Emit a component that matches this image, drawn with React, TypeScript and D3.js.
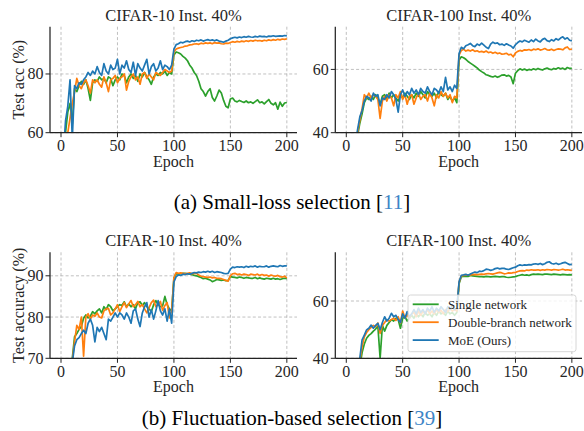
import React from 'react';
import * as d3 from 'd3';

// epochs sampled every 2 epochs, 0..200
const EPOCHS = d3.range(0, 201, 2);
const X_TICKS = [0, 50, 100, 150, 200];
const SERIES_NAMES = ['Single network', 'Double-branch network', 'MoE (Ours)'];
const SERIES_COLORS = ['#2ca02c', '#ff7f0e', '#1f77b4'];

// (a) small-loss selection, CIFAR-10 Inst. 40%
const A_SINGLE = [
  38, 48, 60, 67, 70,
  63, 75, 74, 76, 77.5,
  76.5, 78, 75, 71, 77,
  78, 77.5, 79, 78, 78.5,
  77, 79, 78.5, 76, 78,
  79, 78, 80, 79.5, 77,
  79, 80, 78.5, 79.5, 77.5,
  80, 79, 80.5, 79, 78,
  76.5, 79, 80, 79.5, 80.5,
  80, 81, 79.5, 80.5, 80,
  86.5, 87.5, 87.2, 86.8, 86,
  85.4, 84.5, 83, 82, 80.5,
  79.5, 77.5, 75, 74, 72.5,
  74, 75, 72, 70.8, 72.5,
  74.5, 73.5, 71, 69, 68.5,
  71.5, 71.8, 70.8, 70.5, 71,
  70.6, 70.3, 70.8, 70.2, 70.5,
  70, 70.6, 71.2, 70.2, 70.5,
  69.8, 70.6, 71.3, 70, 69.5,
  70.2, 68, 70.4, 69, 70.1,
  70.3,
];
const A_DOUBLE = [
  35, 45, 55, 60, 65,
  70, 74, 78.5, 76, 75,
  77, 78, 76, 73.5, 78,
  77, 78, 76.5, 75.5, 79,
  77, 74, 78, 78.5, 79.5,
  77, 78.5, 79, 80, 74.5,
  77.5, 79, 80, 78, 79,
  76.5, 80, 80.5, 78.5, 80,
  79, 78, 80.5, 80, 79.5,
  80.5, 81.5, 81, 80.5, 81,
  87.5, 88.5, 88.8, 89, 89.2,
  89.5, 89.6, 89.9, 90, 90.2,
  90.3, 90.1, 90.5, 90.3, 90.6,
  90.4, 90.6, 90.3, 90.7, 90.5,
  90.6, 90.3, 90.2, 90.5, 90.4,
  90.7, 91, 90.8, 91.1, 90.9,
  91.2, 91, 91.3, 91.1, 91.4,
  91.2, 91.5, 91.3, 91.4, 91.2,
  91.5, 91.3, 91.6, 91.4, 91.7,
  91.5, 91.8, 91.6, 91.9, 91.8,
  92,
];
const A_MOE = [
  40, 52, 64, 69, 78,
  58, 76, 75, 77, 76.5,
  78, 79, 80.5, 79.5, 81,
  80, 82.5, 80.5, 79.5, 83.5,
  81, 80, 83, 81.5, 82,
  85, 80, 83, 82, 84.5,
  81.5, 80.5, 84, 79.5, 83.5,
  82, 81, 83, 85, 80,
  82.5, 83.5, 81, 82, 84.5,
  81.5, 83, 82.5, 81.5, 83,
  88.5, 90, 90.3, 90.8, 90.6,
  91, 91.2, 90.9, 91.3, 91.1,
  91.5, 91.3, 91.6, 91.2, 91.5,
  91.7, 91.4, 91.6, 91.3, 91.6,
  91.2, 91, 90.8, 91.2, 91.5,
  92, 92.3, 92.5, 92.3, 92.6,
  92.4, 92.7, 92.5, 92.8, 92.6,
  92.5, 92.8, 92.6, 92.9, 92.7,
  92.8, 92.6, 92.9, 92.8, 93,
  92.8, 92.9, 93, 92.9, 93.1,
  93,
];

// (a) small-loss selection, CIFAR-100 Inst. 40%
const B_SINGLE = [
  13, 18, 23, 28, 34,
  39, 43, 46, 49.5, 51,
  50.5, 51.5, 50.5, 52, 51,
  49, 51.5, 52, 50.5, 52.5,
  51, 52, 51, 50, 52,
  51, 52.5, 51.5, 50.5, 52,
  51, 52.5, 51.5, 53, 52,
  51, 53, 52, 51.5, 52.5,
  51, 53, 52, 51.5, 52.5,
  50.5, 51.5, 50, 51, 49.5,
  63, 64, 63.7, 63.2, 62.5,
  62, 61.5, 61, 60.5, 59.8,
  59.3, 58.9, 58.3, 58.1, 57.8,
  57.6, 57.9, 57.5, 57.8, 58.2,
  58.3, 57.9, 58.1, 57.6, 55.5,
  58.8, 59.6, 60.2, 59.8, 60.1,
  59.7, 60, 59.8, 60.2, 59.9,
  60.3, 60, 59.8, 60.2, 60.4,
  60.1, 59.9, 60.3, 60.1, 60.5,
  60.2, 60.4, 60, 60.6, 60.3,
  60.3,
];
const B_DOUBLE = [
  14, 19, 24, 29, 35,
  40, 44, 47.5, 52, 51,
  52.5, 51, 52, 51.5, 50.5,
  44.5, 50, 51.5, 50, 52,
  51, 48.5, 52, 51, 53,
  50.5, 52, 49, 51.5, 52,
  49, 51, 52.5, 50.5, 51.5,
  52, 50, 52.5, 51, 48.5,
  52, 51, 53, 51.5, 52.5,
  51, 52, 49.5, 51.5, 51,
  64.5, 66, 66.4, 65.8, 66.1,
  65.8, 66.2, 65.7, 65.9, 65.5,
  65.7, 65.4, 65.8, 65.3, 65.5,
  65.1, 65.4, 65, 65.2, 64.8,
  64.9, 65.1, 64.6, 64.8, 64,
  65.2, 65.7, 66, 65.8, 66.2,
  66.1, 66.3, 66, 66.4, 66.2,
  66.5, 66.1, 66.3, 66.6, 66.2,
  66.1, 66.4, 66, 66.3, 66.5,
  66.4, 66.2, 66.8, 67.1, 66.3,
  66.4,
];
const B_MOE = [
  15, 20, 25, 30, 36,
  41, 45, 47, 50, 51.5,
  51, 50, 52.5, 51.5, 52,
  48.5, 51, 50.5, 52, 51,
  53, 52, 50.5, 46.5, 52,
  53.5, 51.5, 53, 52, 54,
  52.5, 53.5, 52, 54, 53,
  52.5, 54.5, 53, 52, 54,
  53.5, 52.5, 54.5, 53, 57.5,
  53.5, 54.5, 53, 55, 54,
  65, 67, 66.5, 67.5, 67.8,
  68.2, 67.5, 67.2, 68, 67.6,
  68.3, 67.7, 67, 66.6, 68,
  68.6, 68.2, 68.4, 67.8, 68,
  67.6, 68.1, 67.7, 67.4, 66.7,
  67.8, 68.5, 69, 68.7, 69.2,
  68.9, 68.6, 69.3, 68.8, 69.6,
  69, 68.7, 69.5, 69.8, 69.1,
  68.8, 69.4, 69, 69.7, 69.3,
  69.9, 70.3, 69.6, 70, 69.2,
  69,
];

// (b) fluctuation-based selection, CIFAR-10 Inst. 40%
const C_SINGLE = [
  37, 45, 52, 59, 64,
  70, 75.2, 76, 77, 77.7,
  79.7, 80.5, 79.8, 80.2, 81.3,
  80.8, 81.5, 82, 81, 82.5,
  81.8, 83, 82.5, 81.5, 82,
  82.5, 83, 82.8, 83.7, 82.5,
  83.2, 82.5, 83, 82, 83.5,
  83.7, 82.8, 83.5, 82.5, 82,
  81.3, 83, 84, 83, 82.5,
  82.7, 85, 83, 82, 81.5,
  89.5, 90.5, 90.4, 90.5, 90.6,
  90.6, 90.5, 90.4, 90.3, 90.1,
  90, 89.8, 89.6, 89.3, 89.4,
  89.2, 89, 88.6, 88.8, 89.1,
  89, 88.9, 89, 88.8, 88.9,
  89.8, 89.7, 89.6, 89.5, 89.7,
  89.6, 89.4, 89.6, 89.5, 89.4,
  89.4, 89.6, 89.3, 89.5, 89.3,
  89.2, 89.4, 89.3, 89.2, 89.4,
  89.2, 89.3, 89.1, 89.3, 89.4,
  89.3,
];
const C_DOUBLE = [
  38, 46, 53, 60, 65,
  69.5, 74, 78, 77, 80,
  70.5, 80, 80.8, 79.5, 80.5,
  80.2, 81, 80, 79.8, 81.5,
  82, 82.1, 80.5, 81, 82,
  83, 81.3, 82.5, 83.5, 82.3,
  83.2, 84, 82.5, 83, 83.8,
  82.5, 83, 82, 81, 82.3,
  83.5, 84.1, 82.5, 83, 83.8,
  81.6, 82.8, 83.5, 79.8, 81.6,
  89.5, 90.8, 90.6, 90.7, 90.6,
  90.5, 90.6, 90.7, 90.5, 90.6,
  90.6, 90.2, 89.9, 89.8, 89.7,
  89.6, 89.7, 89.5, 89.6, 89.4,
  89.4, 89.3, 89.1, 88.9, 88.7,
  90, 90.5, 90.6, 90.3, 90.4,
  90.2, 90.4, 90.3, 90.1, 90.4,
  90.3, 90.2, 90.4, 90.1, 90.3,
  90.1, 90.2, 89.9, 90.2, 90,
  89.9, 90.1, 89.8, 89.7, 89.9,
  89.5,
];
const C_MOE = [
  40, 48, 55, 61, 66,
  69, 73, 74.5, 75, 76,
  76.8, 76, 78.5, 79.5, 78,
  74, 77.5, 76.5, 77.5, 76,
  74.5, 79.5, 79, 80, 81,
  80, 81, 80.5, 79.5, 81,
  80, 78.5, 81.5, 82, 79.5,
  77.7, 81, 82.5, 83.5, 80,
  81.8, 79.5, 81.5, 84, 81.5,
  80.5, 82, 79, 82, 78.5,
  88.5, 89.8, 90.2, 90.1, 90.4,
  90.3, 90.5, 90.4, 90.6, 90.8,
  90.7, 90.9, 90.8, 91, 90.9,
  91.1, 90.9, 91.1, 90.8, 91,
  90.9, 90.8, 90.6, 90.5, 90.6,
  91.6, 92.1, 92, 92.2, 92.1,
  92.2, 92, 92.3, 92.1, 92.3,
  92.2, 92.4, 92.1, 92.3, 92.2,
  92.2, 92.4, 92.1, 92.3, 92.4,
  92.3, 92.2, 92.5, 92.3, 92.4,
  92.4,
];

// (b) fluctuation-based selection, CIFAR-100 Inst. 40%
const D_SINGLE = [
  8, 12, 17, 23, 28,
  33, 37, 42, 45, 47,
  48, 48.6, 49.5, 50.2, 51.2,
  40, 51.5, 49.5, 51.5, 52.5,
  53.5, 53, 54, 53.5, 50.5,
  54, 54.5, 53, 54, 55,
  54, 55.5, 54.5, 55.5, 54.5,
  56, 55, 55.5, 54.5, 56,
  55, 56.5, 55.5, 56, 55,
  56.5, 55.5, 56, 55, 56,
  66, 68.5, 68.6, 68.7, 68.6,
  68.9, 68.8, 68.7, 68.6, 68.5,
  68.5, 68.4, 68.6, 68.5, 68.4,
  68.5, 68.6, 68.5, 68.4, 68.5,
  68.5, 68.3, 68.2, 68.3, 68.4,
  68.5, 68.8, 69, 69.2, 69,
  69.1, 68.9, 69.2, 69.4, 69.3,
  69.4, 69.3, 69.2, 69.4, 69.4,
  69.3, 69.2, 69.4, 69.3, 69.2,
  69.1, 69.3, 69.2, 69.1, 69.2,
  69.1,
];
const D_DOUBLE = [
  10, 14, 19, 25, 30,
  35, 39, 44, 47.5, 49,
  50, 50.8, 51.5, 51, 52.3,
  48.7, 51.5, 52.5, 53.5, 53,
  53.5, 54, 53.2, 54.5, 52.3,
  56.5, 54, 55.2, 54, 55.5,
  56, 54.5, 56.5, 55, 56.5,
  55.5, 57, 55.5, 56.5, 55.5,
  57, 56, 56.8, 55.5, 57,
  56.3, 57.5, 56.5, 57, 56.5,
  66.5, 68.8, 68.9, 69, 69.1,
  69.1, 69.2, 69.3, 69.2, 69.3,
  69.4, 69.3, 69.5, 69.6, 69.5,
  69.4, 69.6, 69.8, 70, 69.8,
  69.5, 69.6, 69.8, 69.7, 69.9,
  70, 70.3, 70.5, 70.6, 70.5,
  70.8, 70.7, 70.9, 70.8, 70.8,
  70.9, 70.7, 70.9, 70.8, 71,
  70.9, 70.8, 71, 70.9, 70.8,
  70.9, 71.1, 70.8, 70.9, 70.8,
  70.7,
];
const D_MOE = [
  10, 15, 20, 26, 31,
  36, 40, 46.4, 48.1, 49.9,
  50.5, 51.6, 50.5, 51.5, 52.2,
  50, 52.5, 54.5, 53, 54,
  55.7, 54.5, 55, 53.5, 52.5,
  55.5, 54, 56.3, 54.5, 55.5,
  57, 55.5, 57.5, 56, 57,
  55.5, 57.5, 56.5, 58, 56,
  57.5, 56.5, 58, 57, 56,
  58, 57, 58.5, 57, 57.5,
  66.7, 69, 69.1, 69.3, 69,
  69.4, 69.8, 70.1, 69.9, 70.4,
  70.3, 70.6, 71.1, 71, 70.7,
  70.9, 71.3, 71.5, 71.2, 71.4,
  71.4, 71.1, 71, 71.3, 71.6,
  71.8, 72.3, 72.6, 72.4, 72.6,
  72.5, 72.7, 72.6, 72.9, 73,
  72.8, 73.1, 72.7, 73, 73.5,
  73.7, 73.1, 72.9, 73.2, 72.8,
  73, 73.3, 73.5, 73.1, 72.7,
  72.8,
];

const FONT = '"Liberation Serif", "DejaVu Serif", serif';
const TEXT = '#262626';

const PANELS = [
  { id: 'a1', title: 'CIFAR-10 Inst. 40%', ylabel: 'Test acc (%)', yDomain: [60, 96.1], yTicks: [60, 80],
    lines: [A_SINGLE, A_DOUBLE, A_MOE], x0: 50, x1: 297, y0: 26.7, y1: 132.7, legend: false },
  { id: 'a2', title: 'CIFAR-100 Inst. 40%', ylabel: '', yDomain: [40, 73.5], yTicks: [40, 60],
    lines: [B_SINGLE, B_DOUBLE, B_MOE], x0: 335.3, x1: 582, y0: 26.7, y1: 132.7, legend: false },
  { id: 'b1', title: 'CIFAR-10 Inst. 40%', ylabel: 'Test accuracy (%)', yDomain: [70, 95.7], yTicks: [70, 80, 90],
    lines: [C_SINGLE, C_DOUBLE, C_MOE], x0: 50, x1: 297, y0: 252.3, y1: 358.3, legend: false },
  { id: 'b2', title: 'CIFAR-100 Inst. 40%', ylabel: '', yDomain: [40, 77], yTicks: [40, 60],
    lines: [D_SINGLE, D_DOUBLE, D_MOE], x0: 335.3, x1: 582, y0: 252.3, y1: 358.3, legend: true },
];

const Panel = ({ p }: { p: any }) => {
  const x = d3.scaleLinear().domain([-9.75, 209]).range([p.x0, p.x1]);
  const y = d3.scaleLinear().domain(p.yDomain).range([p.y1, p.y0]);
  const line = d3.line<number>().x((_, i) => x(EPOCHS[i])).y(d => y(d));
  const cx = (p.x0 + p.x1) / 2;

  return (
    <g>
      <defs>
        <clipPath id={`clip-${p.id}`}>
          <rect x={p.x0} y={p.y0} width={p.x1 - p.x0} height={p.y1 - p.y0} />
        </clipPath>
      </defs>

      {/* grid */}
      {X_TICKS.map(t => (
        <line key={`gx${t}`} x1={x(t)} x2={x(t)} y1={p.y0} y2={p.y1}
          stroke="#b0b0b0" strokeWidth={0.8} strokeDasharray="3,2.2" />
      ))}
      {p.yTicks.map((t: number) => (
        <line key={`gy${t}`} x1={p.x0} x2={p.x1} y1={y(t)} y2={y(t)}
          stroke="#b0b0b0" strokeWidth={0.8} strokeDasharray="3,2.2" />
      ))}

      {/* series */}
      <g clipPath={`url(#clip-${p.id})`}>
        {p.lines.map((vals: number[], i: number) => (
          <path key={i} d={line(vals) || ''} fill="none" stroke={SERIES_COLORS[i]}
            strokeWidth={1.7} strokeLinejoin="round" />
        ))}
      </g>

      {/* spines */}
      <line x1={p.x0} x2={p.x0} y1={p.y0} y2={p.y1} stroke="#222" strokeWidth={1.25} />
      <line x1={p.x0} x2={p.x1} y1={p.y1} y2={p.y1} stroke="#222" strokeWidth={1.25} />

      {/* x ticks */}
      {X_TICKS.map(t => (
        <g key={`tx${t}`}>
          <line x1={x(t)} x2={x(t)} y1={p.y1} y2={p.y1 + 4.5} stroke="#222" strokeWidth={1} />
          <text x={x(t)} y={p.y1 + 18.5} textAnchor="middle" fontFamily={FONT} fontSize={16} fill={TEXT}>{t}</text>
        </g>
      ))}
      {/* y ticks */}
      {p.yTicks.map((t: number) => (
        <g key={`ty${t}`}>
          <line x1={p.x0 - 4.5} x2={p.x0} y1={y(t)} y2={y(t)} stroke="#222" strokeWidth={1} />
          <text x={p.x0 - 6.5} y={y(t) + 5.5} textAnchor="end" fontFamily={FONT} fontSize={16} fill={TEXT}>{t}</text>
        </g>
      ))}

      <text x={cx} y={p.y0 - 6} textAnchor="middle" fontFamily={FONT} fontSize={16.5} fill={TEXT}>{p.title}</text>
      <text x={cx} y={p.y1 + 34} textAnchor="middle" fontFamily={FONT} fontSize={16} fill={TEXT}>Epoch</text>
      {p.ylabel && (
        <text transform={`translate(24,${(p.y0 + p.y1) / 2}) rotate(-90)`} textAnchor="middle"
          fontFamily={FONT} fontSize={16} fill={TEXT}>{p.ylabel}</text>
      )}

      {p.legend && (
        <g>
          <rect x={408} y={295} width={168} height={56.7} rx={2.5} fill="#fff" fillOpacity={0.8}
            stroke="#cccccc" strokeWidth={0.8} />
          {SERIES_NAMES.map((name, i) => {
            const ly = 304.3 + i * 17.9;
            return (
              <g key={name}>
                <line x1={412.7} x2={438.7} y1={ly} y2={ly} stroke={SERIES_COLORS[i]} strokeWidth={1.8} />
                <text x={448} y={ly + 4.4} fontFamily={FONT} fontSize={13} fill={TEXT}>{name}</text>
              </g>
            );
          })}
        </g>
      )}
    </g>
  );
};

export default function App() {
  return (
    <svg width={584} height={431} style={{ position: 'absolute', left: 0, top: 0, background: '#fff' }}>
      {PANELS.map(p => <Panel key={p.id} p={p} />)}
      <text x={292} y={208.5} textAnchor="middle" fontFamily={FONT} fontSize={21} fill="#000">
        (a) Small-loss selection [<tspan fill="#3d85c6">11</tspan>]
      </text>
      <text x={292} y={424.5} textAnchor="middle" fontFamily={FONT} fontSize={21} fill="#000">
        (b) Fluctuation-based selection [<tspan fill="#3d85c6">39</tspan>]
      </text>
    </svg>
  );
}
